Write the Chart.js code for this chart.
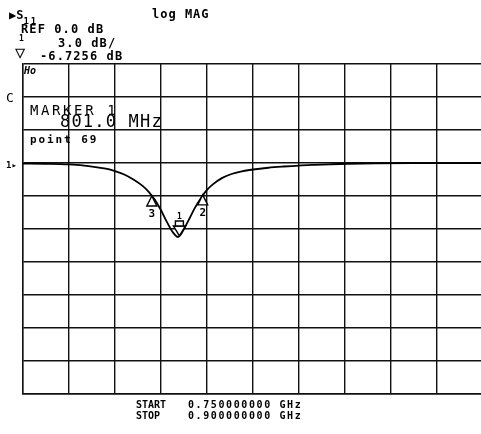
<!DOCTYPE html>
<html lang="en">
<head>
    <meta charset="UTF-8">
    <title>S11 log MAG</title>
    <script src="https://cdn.jsdelivr.net/npm/chart.js"></script>
    <style>
        html, body { margin: 0; padding: 0; background: #fff; overflow: hidden; }
        #wrap { position: relative; width: 481px; height: 434px; overflow: hidden; }
        #plot { position: absolute; left: 0; top: 0; }
        .t { position: absolute; font-family: "DejaVu Sans Mono", monospace; line-height: 1; color: #000; white-space: pre; font-weight: bold; }
    </style>
</head>
<body>
<div id="wrap">
    <canvas id="plot" width="490" height="434"></canvas>

    <!-- analyzer annotation text -->
    <div class="t" style="left:9px;top:9px;font-size:12px;">▶S<span style="font-size:9px;position:relative;top:5px;letter-spacing:2px;">11</span></div>
    <div class="t" style="left:152px;top:8px;font-size:12px;letter-spacing:1px;">log MAG</div>
    <div class="t" style="left:21px;top:23px;font-size:12px;letter-spacing:1.1px;">REF 0.0 dB</div>
    <div class="t" style="left:58px;top:37px;font-size:12px;letter-spacing:1.1px;">3.0 dB/</div>
    <div class="t" style="left:40px;top:50px;font-size:12px;letter-spacing:1.1px;">-6.7256 dB</div>
    <div class="t" style="left:19px;top:35px;font-size:8px;">1</div>
    <div class="t" style="left:15px;top:44px;font-size:17px;font-weight:normal;">▽</div>
    <div class="t" style="left:24px;top:66px;font-size:10px;font-style:italic;">Ho</div>
    <div class="t" style="left:6px;top:91px;font-size:13px;font-weight:normal;">C</div>
    <div class="t" style="left:30px;top:103px;font-size:14px;letter-spacing:2.6px;font-weight:normal;">MARKER 1</div>
    <div class="t" style="left:60px;top:113px;font-size:17px;letter-spacing:1.2px;font-weight:normal;">801.0 MHz</div>
    <div class="t" style="left:30px;top:134px;font-size:11px;letter-spacing:1.9px;">point 69</div>
    <div class="t" style="left:6px;top:161px;font-size:9px;">1▸</div>
    <div class="t" style="left:136px;top:400px;font-size:10px;">START</div>
    <div class="t" style="left:188px;top:400px;font-size:10px;letter-spacing:1.6px;">0.750000000 GHz</div>
    <div class="t" style="left:136px;top:411px;font-size:10px;">STOP</div>
    <div class="t" style="left:188px;top:411px;font-size:10px;letter-spacing:1.6px;">0.900000000 GHz</div>
</div>

<script>
    // trace: frequency (MHz) and S11 magnitude (dB)
    const freqMHz = [750, 757, 765, 772, 777, 780, 783, 786, 789, 791, 793, 795, 797, 799, 800.5,
                     802, 804, 806, 808, 810, 812, 815, 818, 821, 825, 830, 835, 840, 845, 850,
                     856, 865, 880, 900];
    const s11dB = [-0.05, -0.07, -0.13, -0.30, -0.52, -0.74, -1.05, -1.50, -2.08, -2.62, -3.35, -4.30, -5.40, -6.35, -6.72,
                   -6.25, -5.20, -4.10, -3.20, -2.45, -1.92, -1.35, -1.00, -0.78, -0.59, -0.43, -0.32, -0.23, -0.17, -0.12,
                   -0.07, -0.03, -0.01, 0.0];

    // markers
    const markerNames = ['1', '2', '3'];
    const markerFreq = [801.0, 808.6, 792.0];
    const markerDb = [-6.7256, -2.9, -3.0];

    // axis settings: start/stop, ref 0 dB, 3 dB/div
    const startMHz = 750;
    const stopMHz = 900;
    const freqPerDiv = 15;
    const refDb = 0;
    const dbPerDiv = 3;
    const divsAboveRef = 3;
    const divsBelowRef = 7;

    const traceData = freqMHz.map((f, i) => ({ x: f, y: s11dB[i] }));

    const markerPlugin = {
        id: 'markers',
        afterDatasetsDraw(chart) {
            const ctx = chart.ctx;
            const xs = chart.scales.x, ys = chart.scales.y;
            ctx.save();
            ctx.strokeStyle = '#000';
            ctx.lineWidth = 1.4;
            ctx.textAlign = 'center';
            markerNames.forEach((name, i) => {
                const px = xs.getPixelForValue(markerFreq[i]);
                const py = ys.getPixelForValue(markerDb[i]);
                ctx.fillStyle = '#fff';
                if (i === 0) {
                    // active marker: inverted triangle sitting on the trace
                    ctx.beginPath();
                    ctx.moveTo(px, py - 1);
                    ctx.lineTo(px - 6, py - 11);
                    ctx.lineTo(px + 6, py - 11);
                    ctx.closePath();
                    ctx.fill(); ctx.stroke();
                    ctx.beginPath();
                    ctx.rect(px - 4, py - 16, 8, 5);
                    ctx.fill(); ctx.stroke();
                    ctx.fillStyle = '#000';
                    ctx.font = 'bold 8px "DejaVu Sans Mono", monospace';
                    ctx.fillText(name, px, py - 18);
                } else {
                    // other markers: triangle pointing up at the trace, number below
                    ctx.beginPath();
                    ctx.moveTo(px, py);
                    ctx.lineTo(px - 5, py + 10);
                    ctx.lineTo(px + 5, py + 10);
                    ctx.closePath();
                    ctx.fill(); ctx.stroke();
                    ctx.fillStyle = '#000';
                    ctx.font = 'bold 11px "DejaVu Sans Mono", monospace';
                    ctx.fillText(name, px, py + 21);
                }
            });
            ctx.restore();
        }
    };

    new Chart(document.getElementById('plot'), {
        type: 'line',
        data: {
            datasets: [{
                label: 'S11',
                data: traceData,
                borderColor: '#000',
                borderWidth: 1.8,
                pointRadius: 0,
                fill: false,
                cubicInterpolationMode: 'monotone'
            }]
        },
        options: {
            responsive: false,
            animation: false,
            layout: { padding: { left: 23, top: 64, right: 7, bottom: 40 } },
            plugins: { legend: { display: false }, tooltip: { enabled: false } },
            scales: {
                x: {
                    type: 'linear',
                    min: startMHz,
                    max: stopMHz,
                    ticks: { display: false, stepSize: freqPerDiv },
                    grid: { color: '#111', lineWidth: 1.4, drawTicks: false },
                    border: { display: true, color: '#111', width: 1.4 }
                },
                y: {
                    min: refDb - divsBelowRef * dbPerDiv,
                    max: refDb + divsAboveRef * dbPerDiv,
                    ticks: { display: false, stepSize: dbPerDiv },
                    grid: { color: '#111', lineWidth: 1.4, drawTicks: false },
                    border: { display: true, color: '#111', width: 1.4 }
                }
            }
        },
        plugins: [markerPlugin]
    });
</script>
</body>
</html>
